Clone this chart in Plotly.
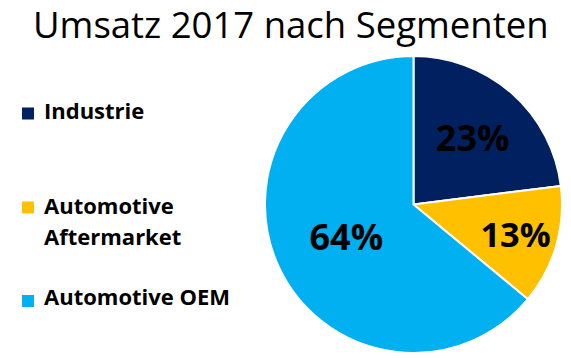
import plotly.graph_objects as go

labels = ["Industrie", "Automotive Aftermarket", "Automotive OEM"]
legend_lines = [["Industrie"], ["Automotive", "Aftermarket"], ["Automotive OEM"]]
values = [23, 13, 64]
colors = ["#002060", "#FFC000", "#00B0F0"]
title = "Umsatz 2017 nach Segmenten"

W, H = 571, 358

fig = go.Figure(go.Pie(
    labels=labels,
    values=values,
    sort=False,
    direction="clockwise",
    rotation=0,
    marker=dict(colors=colors, line=dict(color="white", width=2)),
    textinfo="percent",
    texttemplate="<b>%{percent:.0%}</b>",
    textposition="inside",
    insidetextorientation="horizontal",
    textfont=dict(family="Open Sans", size=36, color="black"),
    domain=dict(x=[264 / W, 563 / W], y=[(H - 353) / H, (H - 56) / H]),
    showlegend=False,
    hoverinfo="label+percent",
))

annotations = [dict(
    text=title, x=290.5 / W, y=1 + 3 / H, xref="paper", yref="paper",
    xanchor="center", yanchor="top", showarrow=False,
    font=dict(family="Open Sans", size=36.5, color="black"),
)]
square_y = [113.5, 207.5, 301]
first_line_y = [110, 205, 296]
line_gap = 31
shapes = []
for lines, col, sy, ly in zip(legend_lines, colors, square_y, first_line_y):
    shapes.append(dict(type="rect", xref="paper", yref="paper",
                       x0=22 / W, x1=34 / W,
                       y0=1 - (sy + 6) / H, y1=1 - (sy - 6) / H,
                       fillcolor=col, line=dict(width=0)))
    for i, ln in enumerate(lines):
        annotations.append(dict(
            text="<b>" + ln + "</b>", x=42 / W, y=1 - (ly + i * line_gap) / H,
            xref="paper", yref="paper",
            xanchor="left", yanchor="middle", align="left", showarrow=False,
            font=dict(family="Open Sans", size=22, color="black"),
        ))

fig.update_layout(
    width=W, height=H,
    margin=dict(l=0, r=0, t=0, b=0),
    paper_bgcolor="white",
    annotations=annotations,
    shapes=shapes,
)

fig.write_html("out.html", config={"displayModeBar": False},
               post_script="document.body.style.margin='0';")
